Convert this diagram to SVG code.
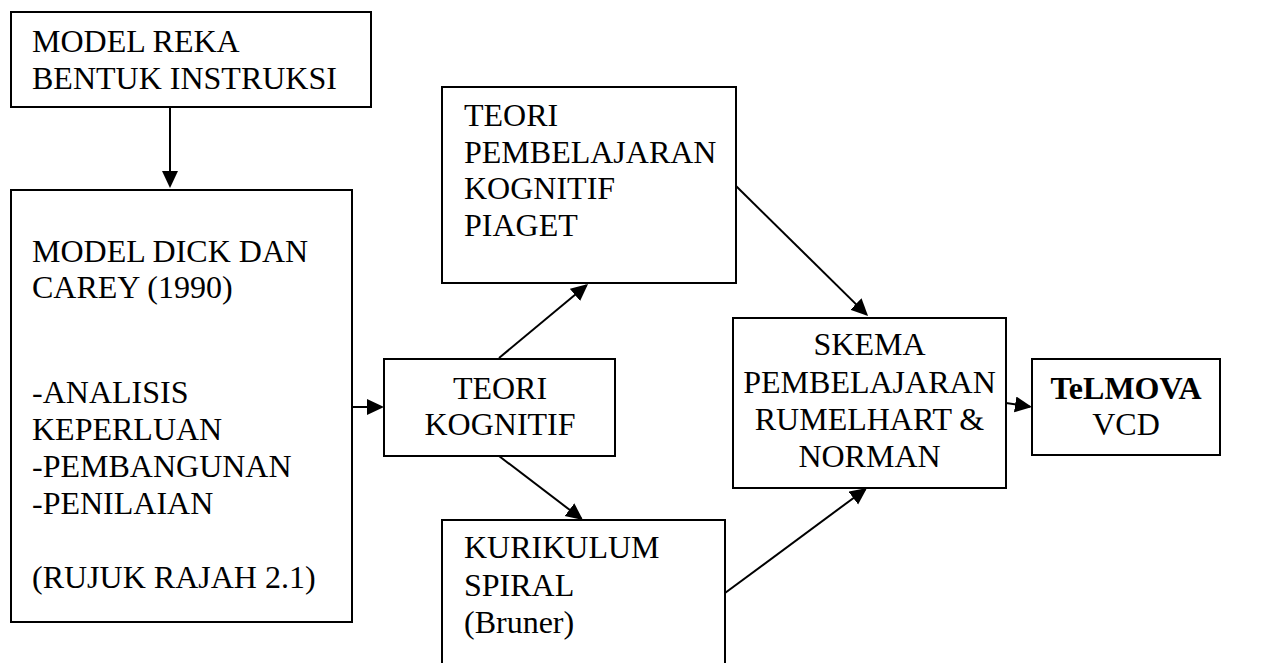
<svg xmlns="http://www.w3.org/2000/svg" width="1262" height="663" viewBox="0 0 1262 663">
  <style>
    .box { fill: #ffffff; stroke: #000000; stroke-width: 2; }
    .lbl { font-family: 'Liberation Serif', 'DejaVu Serif', serif; font-size: 32px; fill: #000000; }
    .mid { text-anchor: middle; }
    .bold { font-weight: bold; }
    .edge { stroke: #000000; stroke-width: 2; fill: none; marker-end: url(#arrow); }
  </style>
  <defs>
    <marker id="arrow" markerUnits="userSpaceOnUse" markerWidth="20" markerHeight="18" refX="15" refY="8" orient="auto">
      <path d="M0,0 L17,8 L0,16 z" fill="#000000"/>
    </marker>
  </defs>
  <rect width="1262" height="663" fill="#ffffff"/>

  <g id="connectors">
    <line class="edge" x1="170" y1="107" x2="170" y2="186"/>
    <line class="edge" x1="352" y1="407" x2="382" y2="407"/>
    <line class="edge" x1="499" y1="358" x2="586.5" y2="285.3"/>
    <line class="edge" x1="735" y1="185" x2="866.6" y2="314.6"/>
    <line class="edge" x1="499" y1="456" x2="581.4" y2="518.8"/>
    <line class="edge" x1="725" y1="593" x2="865.4" y2="489.2"/>
    <line class="edge" x1="1006" y1="403" x2="1030" y2="406.7"/>
  </g>

  <g id="model-reka">
    <rect class="box" x="11" y="12" width="360" height="95"/>
    <text class="lbl" x="32" y="52">MODEL REKA</text>
    <text class="lbl" x="32" y="89">BENTUK INSTRUKSI</text>
  </g>

  <g id="dick-carey">
    <rect class="box" x="11" y="190" width="341" height="432"/>
    <text class="lbl" x="32" y="262">MODEL DICK DAN</text>
    <text class="lbl" x="32" y="298">CAREY (1990)</text>
    <text class="lbl" x="32" y="403">-ANALISIS</text>
    <text class="lbl" x="32" y="440">KEPERLUAN</text>
    <text class="lbl" x="32" y="477">-PEMBANGUNAN</text>
    <text class="lbl" x="32" y="514">-PENILAIAN</text>
    <text class="lbl" x="32" y="588">(RUJUK RAJAH 2.1)</text>
  </g>

  <g id="teori-kognitif">
    <rect class="box" x="384" y="359" width="231" height="97"/>
    <text class="lbl mid" x="500" y="399">TEORI</text>
    <text class="lbl mid" x="500" y="435">KOGNITIF</text>
  </g>

  <g id="piaget">
    <rect class="box" x="442" y="87" width="294" height="196"/>
    <text class="lbl" x="464" y="126">TEORI</text>
    <text class="lbl" x="464" y="163">PEMBELAJARAN</text>
    <text class="lbl" x="464" y="199">KOGNITIF</text>
    <text class="lbl" x="464" y="236">PIAGET</text>
  </g>

  <g id="kurikulum-spiral">
    <rect class="box" x="442" y="520" width="283" height="160"/>
    <text class="lbl" x="464" y="558">KURIKULUM</text>
    <text class="lbl" x="464" y="596">SPIRAL</text>
    <text class="lbl" x="464" y="633">(Bruner)</text>
  </g>

  <g id="skema">
    <rect class="box" x="733" y="318" width="273" height="170"/>
    <text class="lbl mid" x="869.5" y="355">SKEMA</text>
    <text class="lbl mid" x="869.5" y="393">PEMBELAJARAN</text>
    <text class="lbl mid" x="869.5" y="430">RUMELHART &amp;</text>
    <text class="lbl mid" x="869.5" y="467">NORMAN</text>
  </g>

  <g id="telmova">
    <rect class="box" x="1032" y="359" width="188" height="96"/>
    <text class="lbl mid bold" x="1126" y="399">TeLMOVA</text>
    <text class="lbl mid" x="1126" y="435">VCD</text>
  </g>
</svg>
